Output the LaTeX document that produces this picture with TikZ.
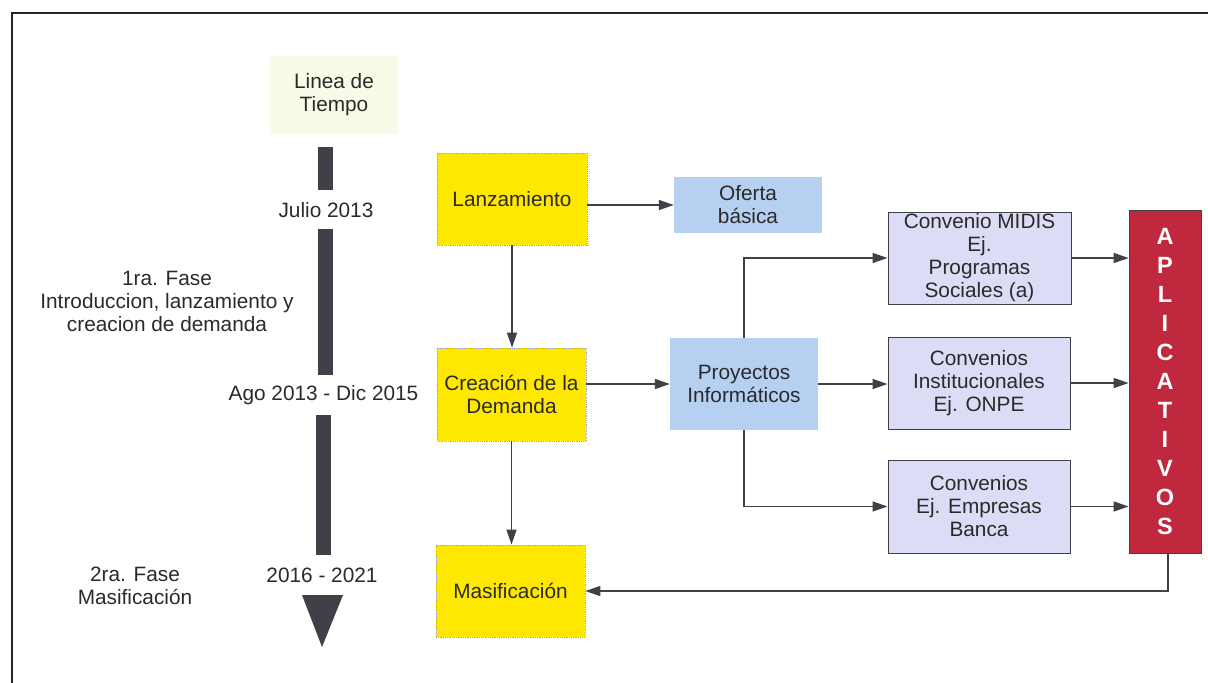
\documentclass[tikz,border=0pt]{standalone}
\usepackage{fontspec}
\setmainfont{Liberation Sans}
\usetikzlibrary{arrows.meta}
\definecolor{tline}{HTML}{404048}
\definecolor{ybox}{HTML}{FFE800}
\definecolor{bbox}{HTML}{B6D0F2}
\definecolor{lbox}{HTML}{DCDCF6}
\definecolor{rbox}{HTML}{C0283E}
\definecolor{txt}{HTML}{2A2A2A}
\definecolor{pale}{HTML}{FAFAE8}
\begin{document}
\begin{tikzpicture}[x=1pt,y=-1pt,
  every node/.style={text=txt,font=\fontsize{20.8}{23}\selectfont,align=center,inner sep=0pt},
  ybx/.style={fill=ybox,draw=gray!70,densely dotted,line width=0.8pt},
  bbx/.style={fill=bbox},
  lbx/.style={fill=lbox,draw=tline,line width=1pt},
  conn/.style={draw=tline,line width=1.5pt,-{Triangle[length=15pt,width=10pt]}},
  bar/.style={fill=tline}]
\useasboundingbox (0,0) rectangle (1208,683);
% frame
\draw[line width=2pt,black!85] (12,683) -- (12,13) -- (1208,13);
% timeline
\node[fill=pale,minimum width=128,minimum height=78] (ldt) at (334,95) {Linea de\\Tiempo};
\node (jul) at (326,210) {Julio 2013};
\node (ago) at (323.5,395) {Ago 2013 - Dic 2015};
\node (y16) at (322,575) {2016 - 2021};
\node (f1) at (167,301) {1ra. Fase\\Introduccion, lanzamiento y\\creacion de demanda};
\node (f2) at (135,586) {2ra. Fase\\Masificación};
\fill[bar] (318,147) rectangle (333,190);
\fill[bar] (318,229) rectangle (333,375);
\fill[bar] (316,415) rectangle (331,555);
\fill[bar] (302,595) -- (343,595) -- (322,647) -- cycle;
% boxes
\node[ybx,minimum width=150,minimum height=92] (lan) at (512,199) {Lanzamiento};
\node[ybx,minimum width=149,minimum height=93] (cre) at (511.5,394.5) {Creación de la\\Demanda};
\node[ybx,minimum width=149,minimum height=92] (mas) at (510.5,591) {Masificación};
\node[bbx,minimum width=148,minimum height=56] (ofe) at (748,205) {Oferta\\básica};
\node[bbx,minimum width=148,minimum height=92] (pro) at (744,384) {Proyectos\\Informáticos};
\node[lbx,minimum width=183,minimum height=92] (mid) at (979.5,258) {Convenio MIDIS\\Ej.\\Programas\\Sociales (a)};
\node[lbx,minimum width=182,minimum height=92] (ins) at (979,383) {Convenios\\Institucionales\\Ej. ONPE};
\node[lbx,minimum width=182,minimum height=93] (ban) at (979,506.5) {Convenios\\Ej. Empresas\\Banca};
\node[fill=rbox,draw=tline,line width=0.8pt,minimum width=72,minimum height=343,text=white,
      font=\bfseries\fontsize{23.5}{29}\selectfont] (apl) at (1165,381.5) {A\\P\\L\\I\\C\\A\\T\\I\\V\\O\\S};
% connectors
\draw[conn] (ofe.west -| lan.east) -- (ofe.west);
\draw[conn] (lan.south) -- (lan.south |- cre.north);
\draw[conn] (pro.west -| cre.east) -- (pro.west);
\draw[conn] (cre.south) -- (cre.south |- mas.north);
\draw[conn] (pro.north) |- (mid.west);
\draw[conn] (pro.east) -- (pro.east -| ins.west);
\draw[conn] (pro.south) |- (ban.west);
\draw[conn] (mid) -- (mid.east -| apl.west);
\draw[conn] (ins) -- (ins.east -| apl.west);
\draw[conn] (ban) -- (ban.east -| apl.west);
\draw[conn] ([xshift=3pt]apl.south) |- (mas.east);
\end{tikzpicture}
\end{document}
